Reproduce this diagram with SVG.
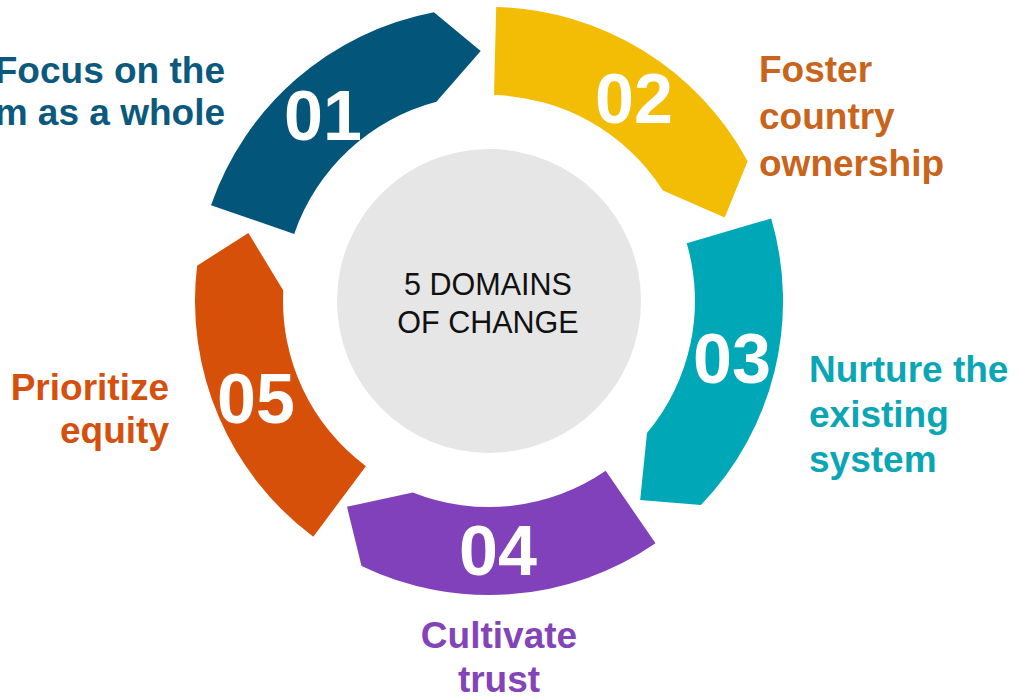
<svg xmlns="http://www.w3.org/2000/svg" width="1019" height="700" viewBox="0 0 1019 700">
<style>
text{font-family:"Liberation Sans",Arial,sans-serif}
.num{font-size:70px;font-weight:bold;fill:#ffffff;text-anchor:middle}
.lbl{font-size:37px;font-weight:bold}
.ctr{font-size:30.5px;fill:#111111;text-anchor:middle}
</style>
<rect width="1019" height="700" fill="#ffffff"/>
<g id="center">
<circle cx="489" cy="301" r="152" fill="#e6e6e6"/>
<text class="ctr" x="488" y="295">5 DOMAINS</text>
<text class="ctr" x="488" y="333">OF CHANGE</text>
</g>
<g id="connectors"></g>
<g id="seg01">
<path d="M211.0,205.3 A294,294 0 0 1 433.9,12.2 L480.7,51.1 L436.4,101.8 A206,206 0 0 0 294.2,233.9 Z" fill="#03567a"/>
<text class="num" x="323" y="140">01</text>
<text class="lbl" fill="#0b5a7e" text-anchor="end" x="225" y="83">Focus on the</text>
<text class="lbl" fill="#0b5a7e" text-anchor="end" x="225" y="125">m as a whole</text>
</g>
<g id="seg02">
<path d="M496.2,7.1 A294,294 0 0 1 747.6,161.2 L724.7,217.5 L662.9,190.6 A206,206 0 0 0 494.0,95.1 Z" fill="#f2bd04"/>
<text class="num" x="634" y="123">02</text>
<text class="lbl" fill="#c8641c" x="759" y="82">Foster</text>
<text class="lbl" fill="#c8641c" x="759" y="129">country</text>
<text class="lbl" fill="#c8641c" x="759" y="176">ownership</text>
</g>
<g id="seg03">
<path d="M771.2,218.5 A294,294 0 0 1 700.9,504.9 L640.2,500.1 L647.0,433.1 A206,206 0 0 0 686.7,243.2 Z" fill="#00a7b6"/>
<text class="num" x="732" y="383">03</text>
<text class="lbl" fill="#0aa6b5" x="809" y="382">Nurture the</text>
<text class="lbl" fill="#0aa6b5" x="809" y="427">existing</text>
<text class="lbl" fill="#0aa6b5" x="809" y="472">system</text>
</g>
<g id="seg04">
<path d="M655.5,543.3 A294,294 0 0 1 361.5,565.9 L347.0,506.8 L412.8,492.4 A206,206 0 0 0 605.7,470.8 Z" fill="#8141ba"/>
<text class="num" x="498" y="575">04</text>
<text class="lbl" fill="#8344b8" text-anchor="middle" x="499" y="648">Cultivate</text>
<text class="lbl" fill="#8344b8" text-anchor="middle" x="499" y="692">trust</text>
</g>
<g id="seg05">
<path d="M313.3,536.7 A294,294 0 0 1 197.1,265.7 L248.4,232.9 L283.3,290.6 A206,206 0 0 0 365.9,466.2 Z" fill="#d7500a"/>
<text class="num" x="256" y="423">05</text>
<text class="lbl" fill="#d5500e" text-anchor="end" x="169" y="400">Prioritize</text>
<text class="lbl" fill="#d5500e" text-anchor="end" x="169" y="443">equity</text>
</g>
</svg>
